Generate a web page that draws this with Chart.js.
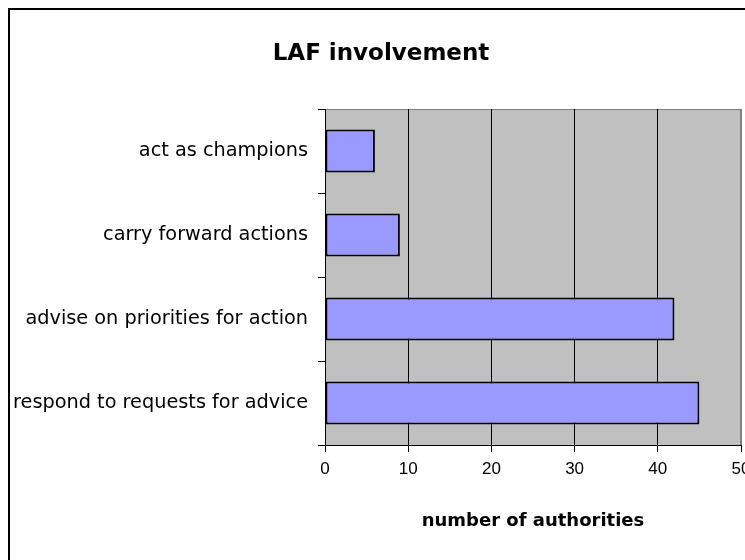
<!DOCTYPE html>
<html>
<head>
<meta charset="utf-8">
<script src="https://cdn.jsdelivr.net/npm/chart.js@4"></script>
<style>
  html, body { margin: 0; padding: 0; background: #fff; overflow: hidden; }
  #frame { position: absolute; left: 8px; top: 8px; width: 900px; height: 700px;
           border-left: 2px solid #000; border-top: 2px solid #000; }
  #wrap { position: absolute; left: 0; top: 0; width: 745px; height: 560px; }
</style>
</head>
<body>
<div id="frame"></div>
<div id="wrap"><canvas id="c" width="745" height="560"></canvas></div>
<script>
const chartTitle = 'LAF involvement';
const axisTitle = 'number of authorities';
const categories = ['act as champions', 'carry forward actions', 'advise on priorities for action', 'respond to requests for advice'];
const values = [6, 9, 42, 45];
const xMin = 0, xMax = 50, xStep = 10;

const plotBg = {
  id: 'plotBg',
  beforeDraw(chart) {
    const {ctx, chartArea: a} = chart;
    ctx.save();
    ctx.fillStyle = '#C0C0C0';
    ctx.fillRect(a.left, a.top, a.right - a.left, a.bottom - a.top);
    ctx.strokeStyle = '#808080';
    ctx.lineWidth = 1;
    ctx.strokeRect(Math.round(a.left) + 0.5, Math.round(a.top) + 0.5,
                   Math.round(a.right - a.left) - 1, Math.round(a.bottom - a.top));
    ctx.restore();
  },
  afterDraw(chart) {
    const {ctx} = chart;
    ctx.save();
    ctx.font = 'bold 23px "DejaVu Sans"';
    ctx.fillStyle = '#000';
    ctx.textAlign = 'center';
    ctx.textBaseline = 'alphabetic';
    ctx.fillText(chartTitle, 381, 60);
    ctx.restore();
  }
};

new Chart(document.getElementById('c'), {
  type: 'bar',
  data: {
    labels: categories,
    datasets: [{
      data: values,
      backgroundColor: '#9999FF',
      borderColor: '#000000',
      borderWidth: 2,
      borderSkipped: false,
      categoryPercentage: 1,
      barPercentage: 0.51
    }]
  },
  options: {
    indexAxis: 'y',
    responsive: false,
    animation: false,
    devicePixelRatio: 1,
    layout: { padding: { left: 0, top: 109, right: 4, bottom: 0 } },
    plugins: { legend: { display: false }, tooltip: { enabled: false }, title: { display: false } },
    scales: {
      x: {
        type: 'linear',
        min: xMin, max: xMax,
        ticks: { stepSize: xStep, color: '#000', padding: 7,
                 font: { family: '"Liberation Sans", Arial, sans-serif', size: 17 } },
        grid: { color: (c) => (c.tick && c.tick.value === xMax ? '#808080' : '#000'),
                lineWidth: 1, tickLength: 7, drawOnChartArea: true, tickColor: '#000' },
        border: { display: true, color: '#000', width: 1 },
        title: { display: true, text: axisTitle, color: '#000',
                 font: { family: '"DejaVu Sans"', size: 18, weight: 'bold' },
                 padding: { top: 0, bottom: 28 } },
        afterFit(s) { s.height = 115; s.paddingLeft = 0; s.paddingRight = 0; }
      },
      y: {
        offset: true,
        ticks: { color: '#000', padding: 10,
                 font: { family: '"DejaVu Sans"', size: 19.3 } },
        grid: { offset: true, drawOnChartArea: false, tickLength: 7, color: '#000', lineWidth: 1 },
        border: { display: true, color: '#000', width: 1 },
        afterFit(s) { s.width = 325; s.paddingTop = 0; s.paddingBottom = 0; }
      }
    }
  },
  plugins: [plotBg]
});
</script>
</body>
</html>
